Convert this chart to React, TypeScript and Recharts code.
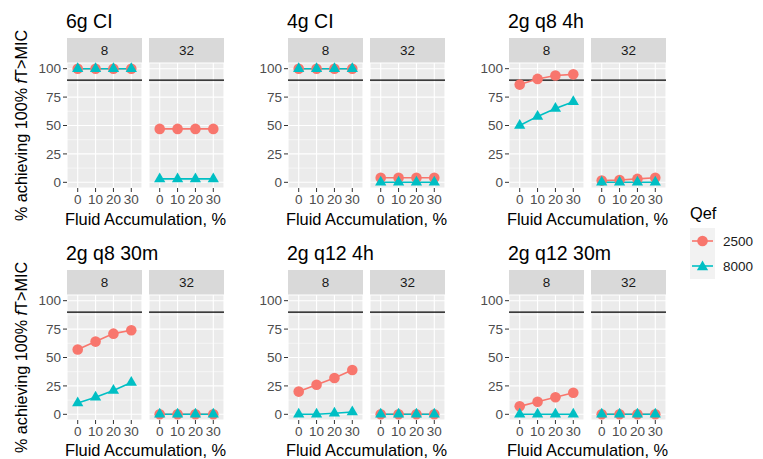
import { LineChart, Line, XAxis, YAxis, CartesianGrid, ReferenceLine } from 'recharts';

// Fluid accumulation categories (%)
const fluid = [0, 10, 20, 30];
const regimens = ['6g CI', '4g CI', '2g q8 4h', '2g q8 30m', '2g q12 4h', '2g q12 30m'];
const mics = ['8', '32'];
const yTicks = [0, 25, 50, 75, 100];
const minorTicks = [12.5, 37.5, 62.5, 87.5];
const target = 90;

// % achieving 100% fT>MIC, one row per regimen
const q2500Mic8 = [
  [100, 100, 100, 100],
  [100, 100, 100, 100],
  [86, 91, 94, 95],
  [57, 64, 71, 74],
  [20, 26, 32, 39],
  [7, 11, 15, 19],
];
const q2500Mic32 = [
  [47, 47, 47, 47],
  [4, 4, 4, 4],
  [1.5, 2, 3, 4],
  [0, 0, 0, 0],
  [0, 0, 0, 0],
  [0, 0, 0, 0],
];
const q8000Mic8 = [
  [100, 100, 100, 100],
  [100, 100, 100, 100],
  [50, 58, 65, 71],
  [10, 15, 21, 28],
  [0, 0, 1, 2],
  [0, 0, 0, 0],
];
const q8000Mic32 = [
  [3, 3, 3, 3],
  [0, 0, 0, 0],
  [0, 0, 0, 0],
  [0, 0, 0, 0],
  [0, 0, 0, 0],
  [0, 0, 0, 0],
];

const RED = '#F8766D';
const TEAL = '#00BFC4';
const FONT = '"Liberation Sans", Arial, Helvetica, sans-serif';

const PLOT_W = 75;
const PLOT_H = 125;
const Y_AXIS_W = 40;
const TOP_PAD = 10;
const colX = [67, 288, 509];
const rowY = [63, 295];
const FACET_STEP = 82;

const Tri = ({ cx, cy, r = 6.5 }: { cx: number; cy: number; r?: number }) => {
  const xc = (Math.sqrt(3) / 2) * r;
  return (
    <polygon
      points={`${cx},${cy - r} ${cx + xc},${cy + r / 2} ${cx - xc},${cy + r / 2}`}
      fill={TEAL}
    />
  );
};

const Facet = ({ a, b, showY, left, top, id }: any) => {
  const data = fluid.map((f, i) => ({ fluid: f, q2500: a[i], q8000: b[i] }));
  const w = (showY ? Y_AXIS_W : 0) + PLOT_W;
  return (
    <div style={{ position: 'absolute', left: left - (showY ? Y_AXIS_W : 0), top: top - TOP_PAD }}>
      <LineChart width={w} height={TOP_PAD + PLOT_H + 26} data={data} margin={{ top: TOP_PAD, right: 0, bottom: 0, left: 0 }}>
        <CartesianGrid fill="#EBEBEB" stroke="#FFFFFF" strokeWidth={1.1} />
        {minorTicks.map((t) => (
          <ReferenceLine key={t} y={t} stroke="#FFFFFF" strokeWidth={0.55} />
        ))}
        <XAxis
          dataKey="fluid"
          type="number"
          domain={[-6, 36]}
          ticks={fluid}
          interval={0}
          height={26}
          axisLine={false}
          tickSize={4}
          tickLine={{ stroke: '#333333' }}
          tick={{ fill: '#4D4D4D', fontSize: 13.5, fontFamily: FONT }}
        />
        <YAxis
          type="number"
          domain={[-5, 105]}
          ticks={yTicks}
          interval={0}
          width={Y_AXIS_W}
          hide={!showY}
          axisLine={false}
          tickSize={4}
          tickLine={{ stroke: '#333333' }}
          tick={{ fill: '#4D4D4D', fontSize: 13.5, fontFamily: FONT }}
        />
        <ReferenceLine y={target} stroke="#000000" strokeWidth={1.2} />
        <Line
          dataKey="q2500"
          stroke={RED}
          strokeWidth={1.6}
          dot={{ r: 5.3, fill: RED, stroke: RED, strokeWidth: 0 }}
          isAnimationActive={false}
        />
        <Line
          dataKey="q8000"
          stroke={TEAL}
          strokeWidth={1.6}
          dot={(p: any) => <Tri key={`${id}-t-${p.index}`} cx={p.cx} cy={p.cy} />}
          isAnimationActive={false}
        />
      </LineChart>
    </div>
  );
};

const App = () => {
  return (
    <div style={{ position: 'absolute', left: 0, top: 0, width: 763, height: 459, background: '#FFFFFF', fontFamily: FONT }}>
      {regimens.map((name, k) => {
        const col = k % 3;
        const row = Math.floor(k / 3);
        return mics.map((mic, j) => {
          const x = colX[col] + j * FACET_STEP;
          const y = rowY[row];
          return (
            <div key={`${name}-${mic}`}>
              <div
                style={{
                  position: 'absolute',
                  left: x,
                  top: y - 25,
                  width: PLOT_W,
                  height: 25,
                  background: '#D9D9D9',
                  color: '#1A1A1A',
                  fontSize: 13.5,
                  lineHeight: '25px',
                  textAlign: 'center',
                }}
              >
                {mic}
              </div>
              <Facet
                id={`${k}-${j}`}
                a={j === 0 ? q2500Mic8[k] : q2500Mic32[k]}
                b={j === 0 ? q8000Mic8[k] : q8000Mic32[k]}
                showY={j === 0}
                left={x}
                top={y}
              />
            </div>
          );
        });
      })}
      <svg width={763} height={459} style={{ position: 'absolute', left: 0, top: 0, pointerEvents: 'none' }}>
        {regimens.map((name, k) => {
          const col = k % 3;
          const row = Math.floor(k / 3);
          const x0 = colX[col];
          const cx = x0 + (FACET_STEP + PLOT_W) / 2;
          return (
            <g key={name}>
              <text x={x0 - 1} y={row === 0 ? 28 : 260} fontSize={19.5} fill="#000000" fontFamily={FONT}>
                {name}
              </text>
              <text x={cx} y={row === 0 ? 225 : 456} fontSize={16.4} fill="#000000" textAnchor="middle" fontFamily={FONT}>
                Fluid Accumulation, %
              </text>
            </g>
          );
        })}
        {rowY.map((y) => (
          <text
            key={y}
            x={27}
            y={y + PLOT_H / 2}
            transform={`rotate(-90, 27, ${y + PLOT_H / 2})`}
            fontSize={16.2}
            textAnchor="middle"
            fill="#000000"
            fontFamily={FONT}
          >
            % achieving 100% <tspan fontStyle="italic">f</tspan>T&gt;MIC
          </text>
        ))}
        <text x={690} y={219} fontSize={16.4} fill="#000000" fontFamily={FONT}>
          Qef
        </text>
        <rect x={690} y={228} width={25} height={51} fill="#F2F2F2" />
        <line x1={692} x2={713} y1={241} y2={241} stroke={RED} strokeWidth={1.6} />
        <circle cx={702.5} cy={241} r={5.3} fill={RED} />
        <line x1={692} x2={713} y1={266} y2={266} stroke={TEAL} strokeWidth={1.6} />
        <Tri cx={702.5} cy={267} />
        <text x={723} y={246} fontSize={13.5} fill="#1A1A1A" fontFamily={FONT}>
          2500
        </text>
        <text x={723} y={271} fontSize={13.5} fill="#1A1A1A" fontFamily={FONT}>
          8000
        </text>
      </svg>
    </div>
  );
};

export default App;
